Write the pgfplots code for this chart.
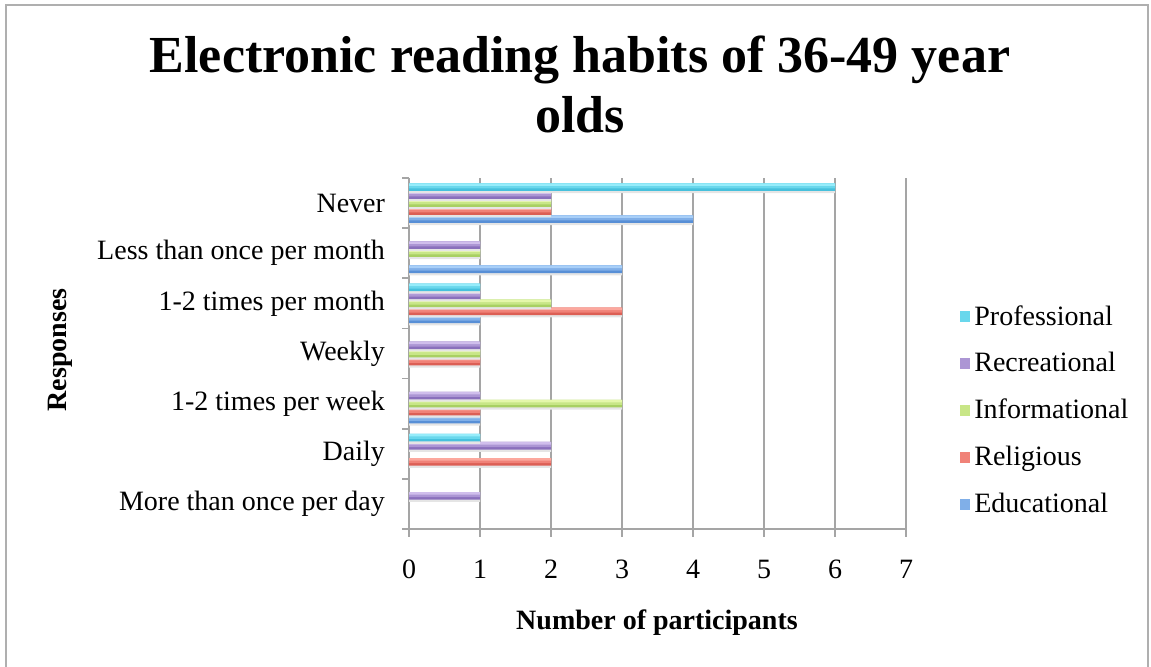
\documentclass[border=0pt]{standalone}
\usepackage{pgfplots}
\usepackage{pgfplotstable}
\pgfplotsset{compat=1.18}
\usepackage{fontspec}
\setmainfont{Liberation Serif}
\definecolor{gridgray}{RGB}{165,165,165}
\definecolor{framegray}{RGB}{175,175,175}
\definecolor{profTop}{RGB}{150,236,250}
\definecolor{profMid}{RGB}{105,215,236}
\definecolor{profBot}{RGB}{70,192,220}
\definecolor{recTop}{RGB}{208,190,236}
\definecolor{recMid}{RGB}{172,150,212}
\definecolor{recBot}{RGB}{138,112,188}
\definecolor{infTop}{RGB}{228,247,170}
\definecolor{infMid}{RGB}{200,230,135}
\definecolor{infBot}{RGB}{168,208,98}
\definecolor{relTop}{RGB}{252,168,158}
\definecolor{relMid}{RGB}{240,130,120}
\definecolor{relBot}{RGB}{220,95,85}
\definecolor{eduTop}{RGB}{168,207,248}
\definecolor{eduMid}{RGB}{128,175,232}
\definecolor{eduBot}{RGB}{88,143,214}
% y: 0 More than once per day, 1 Daily, 2 1-2/week, 3 Weekly, 4 1-2/month, 5 Less than once/month, 6 Never
\pgfplotstableread{
val cat
4 6
3 5
1 4
1 2
}\edu
\pgfplotstableread{
val cat
2 6
3 4
1 3
1 2
2 1
}\rel
\pgfplotstableread{
val cat
2 6
1 5
2 4
1 3
3 2
}\inf
\pgfplotstableread{
val cat
2 6
1 5
1 4
1 3
1 2
2 1
1 0
}\rec
\pgfplotstableread{
val cat
6 6
1 4
1 1
}\prof
\newcommand{\series}[5]{%
  \addplot[xbar, bar width=0.15, bar shift=#2-0.045, draw=none, fill=black!10, forget plot] table[x=val,y=cat] {#1};
  \addplot[xbar, bar width=0.15, bar shift=#2, draw=none, fill=#5, forget plot] table[x=val,y=cat] {#1};
  \addplot[xbar, bar width=0.10, bar shift=#2+0.025, draw=none, fill=#4] table[x=val,y=cat] {#1};
  \addplot[xbar, bar width=0.05, bar shift=#2+0.05, draw=none, fill=#3, forget plot] table[x=val,y=cat] {#1};
}
\begin{document}
\begin{tikzpicture}
\useasboundingbox (0,0) rectangle (575.5pt,333.5pt);
\draw[framegray, line width=1pt] (3pt,-2pt) rectangle (574pt,331pt);
\begin{axis}[
  at={(204.5pt,69pt)}, anchor=south west,
  width=248.5pt, height=175.5pt, scale only axis,
  xmin=0, xmax=7, ymin=-0.5, ymax=6.5,
  axis lines*=left,
  axis line style={-, draw=gridgray, line width=0.9pt},
  xtick={0,...,7},
  tick align=outside,
  major tick length=4pt,
  tick style={draw=gridgray, line width=0.9pt},
  xmajorgrids,
  major grid style={draw=gridgray, line width=0.9pt},
  ytick={0,...,6},
  yticklabels={More than once per day, Daily, 1-2 times per week, Weekly, 1-2 times per month, Less than once per month, Never},
  ytick style={draw=none},
  extra y ticks={-0.5,0.5,...,6.5},
  extra y tick labels={},
  extra y tick style={ytick style={draw=gridgray, line width=0.9pt}, major tick length=3.5pt, grid=none},
  /pgf/number format/assume math mode=true,
  tick label style={font=\fontsize{14}{16}\selectfont},
  xticklabel style={yshift=-8pt},
  yticklabel style={xshift=-4.5pt},
  clip=false,
  legend style={draw=none, fill=none, at={(axis description cs:1.107,0.3376)}, anchor=west,
    font=\fontsize{14}{16}\selectfont, row sep=8.2pt, inner sep=0pt},
  legend cell align=left,
  reverse legend,
  legend image code/.code={\path[#1] (-3.2pt,-2.7pt) rectangle (2.2pt,2.7pt);},
]
\series{\edu}{-0.32}{eduTop}{eduMid}{eduBot}
\addlegendentry{Educational}
\series{\rel}{-0.16}{relTop}{relMid}{relBot}
\addlegendentry{Religious}
\series{\inf}{0}{infTop}{infMid}{infBot}
\addlegendentry{Informational}
\series{\rec}{0.16}{recTop}{recMid}{recBot}
\addlegendentry{Recreational}
\series{\prof}{0.32}{profTop}{profMid}{profBot}
\addlegendentry{Professional}
\end{axis}
\node[anchor=base, font=\fontsize{26}{30}\selectfont\bfseries] at (290pt,297pt) {Electronic reading habits of 36-49 year};
\node[anchor=base, font=\fontsize{26}{30}\selectfont\bfseries] at (290pt,267pt) {olds};
\node[anchor=base, font=\fontsize{14}{16}\selectfont\bfseries] at (328.5pt,18.5pt) {Number of participants};
\node[rotate=90, font=\fontsize{14}{16}\selectfont\bfseries] at (30pt,158.5pt) {Responses};
\end{tikzpicture}
\end{document}
